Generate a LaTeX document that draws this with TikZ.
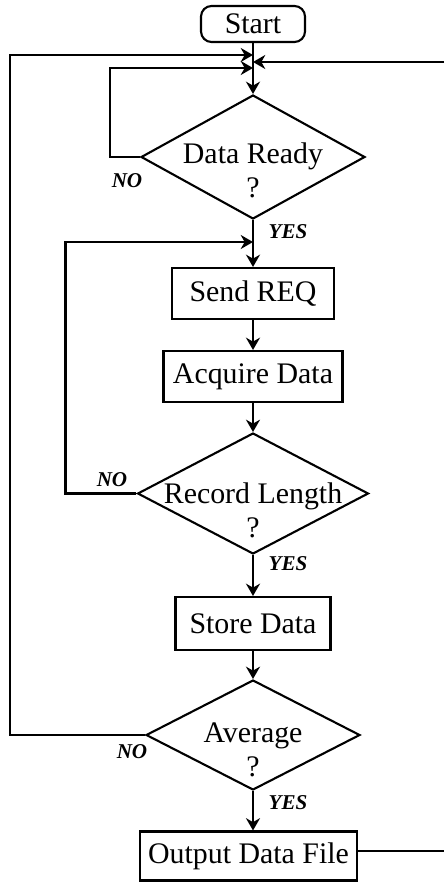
\documentclass[tikz,border=0pt]{standalone}
\usepackage{fontspec}
\setmainfont{Liberation Serif}
\usetikzlibrary{calc, shapes.geometric, arrows.meta, positioning}

\begin{document}
\begin{tikzpicture}[x=0.02cm, y=-0.02cm, line width=1.2pt,
    >={Stealth[length=7pt, width=8pt]},
    box/.style={draw, rectangle, inner sep=0pt, font=\fontsize{17}{19.5}\selectfont},
    dec/.style={draw, diamond, inner sep=0pt},
    dtext/.style={align=center, inner sep=0pt, font=\fontsize{17}{19.5}\selectfont},
    ans/.style={inner sep=0pt, font=\fontsize{12}{13}\selectfont\bfseries\itshape}]
    \useasboundingbox (0,0) rectangle (444,882);

    % 1. Start, boxes and decisions
    \node[box, rounded corners=6pt, minimum width=2.08cm, minimum height=0.72cm] (start) at (253,24) {Start};
    \node[dec, minimum width=4.48cm, minimum height=2.48cm] (ready) at (253,157) {};
    \node[dtext] (readyt) at ($(ready)+(0,13)$) {Data Ready\\?};
    \node[box, minimum width=3.24cm, minimum height=1.02cm] (send) at (253,293.5) {Send REQ};
    \node[box, minimum width=3.58cm, minimum height=1.02cm] (acq) at (253,376.5) {Acquire Data};
    \node[dec, minimum width=4.62cm, minimum height=2.42cm] (rec) at (253,493.5) {};
    \node[dtext] (rect) at ($(rec)+(0,16.5)$) {Record Length\\?};
    \node[box, minimum width=3.1cm, minimum height=1.06cm] (store) at (253,623.5) {Store Data};
    \node[dec, minimum width=4.28cm, minimum height=2.2cm] (avg) at (253,735) {};
    \node[dtext] (avgt) at ($(avg)+(0,15)$) {Average\\?};
    \node[box, minimum width=4.34cm, minimum height=0.98cm] (out) at (248.5,856) {Output Data File};

    % 2. Junction points and free ends
    \coordinate (j1) at (253,55);
    \coordinate (j2) at (253,62);
    \coordinate (j3) at (253,68);
    \coordinate (j4) at (253,242);
    \coordinate (rin) at (444,62);
    \coordinate (rout) at (444,851);

    % 3. Main flow
    \draw[->] (start) -- (ready);
    \draw[->] (ready) -- (send);
    \draw[->] (send) -- (acq);
    \draw[->] (acq) -- (rec);
    \draw[->] (rec) -- (store);
    \draw[->] (store) -- (avg);
    \draw[->] (avg.south) -- (avg.south |- out.north);

    % 4. Loops back
    \draw[->] (ready.west) -- ++(-30,0) |- (j3);
    \draw[->] (rec.west) -- ++(-71,0) |- (j4);
    \draw[->] (avg.west) -- ++(-135,0) |- (j1);
    \draw[->] (rin) -- (j2);
    \draw (out.east |- rout) -- (rout);

    % 5. Answers
    \node[ans] (no1) at (127,181) {NO};
    \node[ans] (yes1) at (288,232) {YES};
    \node[ans] (no2) at (112,480) {NO};
    \node[ans] (yes2) at (288,564) {YES};
    \node[ans] (no3) at (132,752) {NO};
    \node[ans] (yes3) at (288,803) {YES};
\end{tikzpicture}
\end{document}
